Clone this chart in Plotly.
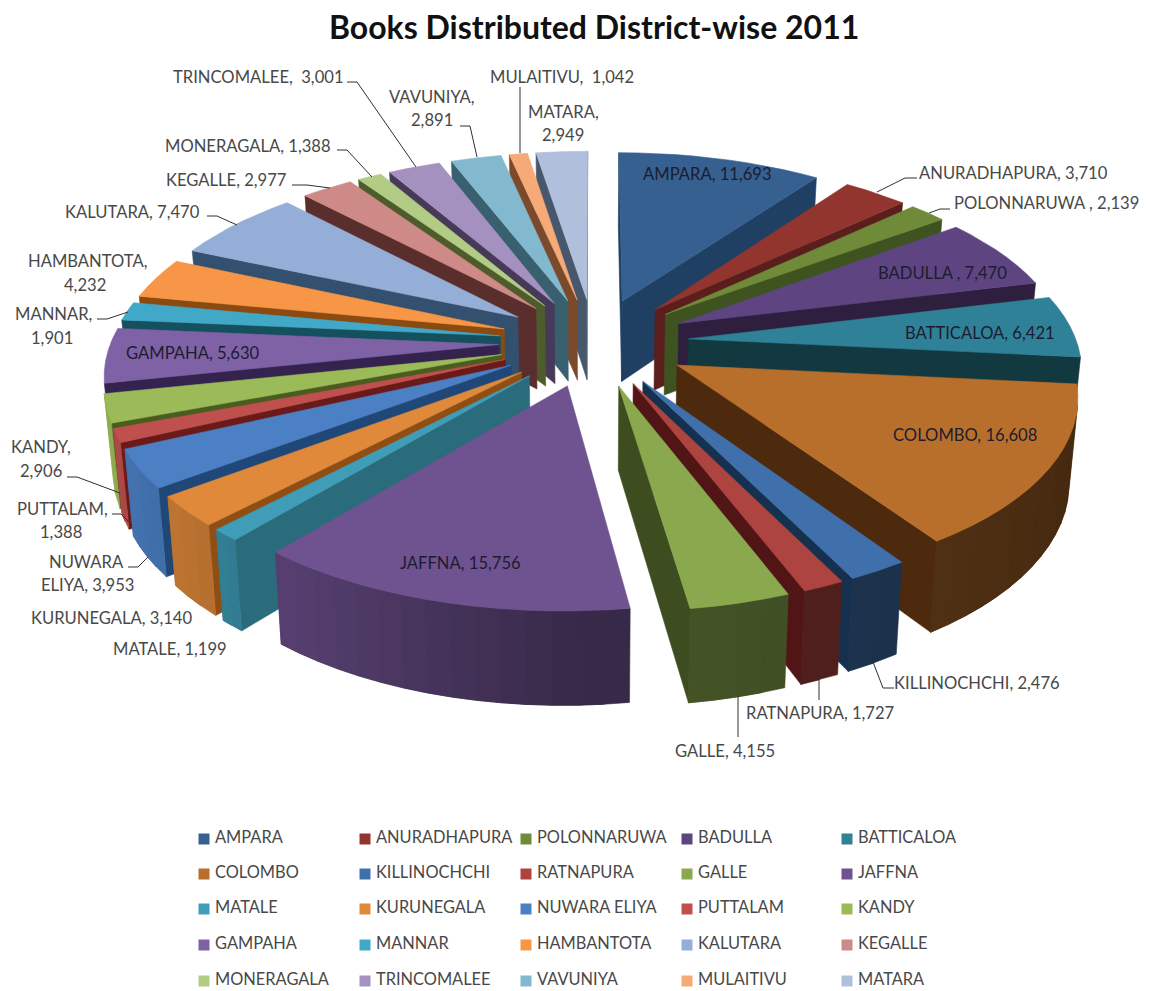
import math
import plotly.graph_objects as go

DISTRICTS = ["AMPARA", "ANURADHAPURA", "POLONNARUWA", "BADULLA", "BATTICALOA",
             "COLOMBO", "KILLINOCHCHI", "RATNAPURA", "GALLE", "JAFFNA",
             "MATALE", "KURUNEGALA", "NUWARA ELIYA", "PUTTALAM", "KANDY",
             "GAMPAHA", "MANNAR", "HAMBANTOTA", "KALUTARA", "KEGALLE",
             "MONERAGALA", "TRINCOMALEE", "VAVUNIYA", "MULAITIVU", "MATARA"]
BOOKS = [11693, 3710, 2139, 7470, 6421,
         16608, 2476, 1727, 4155, 15756,
         1199, 3140, 3953, 1388, 2906,
         5630, 1901, 4232, 7470, 2977,
         1388, 3001, 2891, 1042, 2949]
FACE_COLORS = ["#36608f", "#93352f", "#6f8a38", "#5e4582", "#2f8198",
               "#b96f2c", "#4070ac", "#ad4440", "#8aa94e", "#6f5290",
               "#3f9db8", "#e0893a", "#4b80c4", "#c0504d", "#9bbb59",
               "#7f62a6", "#42a8c8", "#f79646", "#95aed8", "#cd8a86",
               "#b3cc85", "#a491bf", "#83b9cf", "#f5aa78", "#b0c0dc"]
SIDE_COLORS = ["#1f3f63", "#5a1e1c", "#3f5320", "#2e1f3e", "#123840",
               "#4d2a0d", "#16304f", "#521515", "#3d4d20", "#3a2b50",
               "#2a6b7c", "#8f4f14", "#1f4778", "#6b1a1a", "#4a5c1f",
               "#34224f", "#15505f", "#8a4a10", "#34506f", "#5a2e2c",
               "#4e5c2c", "#463a58", "#38606e", "#7a4a2a", "#47586c"]

# Text placed on or beside the slices: one line, centre x, centre y, colour key
LABELS = [
    ("AMPARA, 11,693", 707, 174, "in"),
    ("ANURADHAPURA, 3,710", 1013, 173, "out"),
    ("POLONNARUWA , 2,139", 1046, 203, "out"),
    ("BADULLA , 7,470", 942, 273, "in"),
    ("BATTICALOA, 6,421", 980, 333, "in"),
    ("COLOMBO, 16,608", 965, 435, "in"),
    ("KILLINOCHCHI, 2,476", 977, 683, "out"),
    ("RATNAPURA, 1,727", 820, 713, "out"),
    ("GALLE, 4,155", 725, 751, "out"),
    ("JAFFNA, 15,756", 460, 563, "in"),
    ("MATALE, 1,199", 170, 649, "out"),
    ("KURUNEGALA, 3,140", 111, 618, "out"),
    ("NUWARA", 86, 562, "out"),
    ("ELIYA, 3,953", 87, 585, "out"),
    ("PUTTALAM,", 62, 509, "out"),
    ("1,388", 61, 532, "out"),
    ("KANDY,", 41, 447, "out"),
    ("2,906", 41, 471, "out"),
    ("GAMPAHA, 5,630", 193, 353, "in"),
    ("MANNAR,", 53, 314, "out"),
    ("1,901", 52, 338, "out"),
    ("HAMBANTOTA,", 87, 261, "out"),
    ("4,232", 85, 285, "out"),
    ("KALUTARA, 7,470", 132, 212, "out"),
    ("KEGALLE, 2,977", 226, 180, "out"),
    ("MONERAGALA, 1,388", 248, 146, "out"),
    ("TRINCOMALEE,  3,001", 258, 77, "out"),
    ("VAVUNIYA,", 432, 97, "out"),
    ("2,891", 432, 120, "out"),
    ("MULAITIVU,  1,042", 562, 77, "out"),
    ("MATARA,", 563, 112, "out"),
    ("2,949", 563, 135, "out"),
]

# Leader lines from outside labels to their slices
LEADERS = [
    [(917, 178), (905, 178), (877, 192)],
    [(950, 209), (940, 209), (929, 213)],
    [(894, 688), (883, 688), (873, 662)],
    [(819, 700), (819, 678)],
    [(738, 737), (738, 695)],
    [(128, 567), (138, 567), (148, 557)],
    [(112, 514), (121, 514), (132, 525)],
    [(67, 477), (77, 477), (120, 493)],
    [(97, 319), (107, 319), (128, 312)],
    [(207, 216), (217, 216), (237, 225)],
    [(292, 185), (307, 185), (330, 188)],
    [(337, 150), (347, 150), (372, 177)],
    [(347, 82), (357, 82), (416, 167)],
    [(460, 126), (470, 126), (477, 157)],
    [(520, 87), (520, 153)],
]

LEGEND_COLUMNS = [204, 365, 526, 687, 847]
LEGEND_ROWS = [839, 874, 909, 945, 981]

TITLE = "Books Distributed District-wise 2011"
FONT = "Lato"
TEXT_OUT = "#484848"
TEXT_IN = "#1c1c30"

# Perspective of the pie: centre, radii, foreshortening, extrusion depth, explosion
CX, CY = 594, 342
RX, RY = 388, 180
PERSP = 0.14
DEPTH = 82
TAPER = 0.018
EXPLODE = 0.245


def project(x, y, z):
    w = 1 / (1 - PERSP * y)
    return (CX + RX * x * w * (1 - TAPER * z),
            CY + RY * y * w * (1 - TAPER * z) + DEPTH * z * w)


def shade(color, factor):
    r, g, b = (int(color[i:i + 2], 16) for i in (1, 3, 5))
    return "#%02x%02x%02x" % (int(r * factor), int(g * factor), int(b * factor))


def outer_shade(angle):
    nx = math.sin(angle)
    return 0.52 - 0.15 * nx if nx > 0 else 0.52 + 0.42 * abs(nx)


def area(poly):
    return sum(poly[i][0] * poly[(i + 1) % len(poly)][1]
               - poly[(i + 1) % len(poly)][0] * poly[i][1]
               for i in range(len(poly)))


fig = go.Figure()


def add_polygon(poly, color):
    xs = [p[0] for p in poly] + [poly[0][0]]
    ys = [p[1] for p in poly] + [poly[0][1]]
    fig.add_trace(go.Scatter(x=xs, y=ys, mode="lines", fill="toself", fillcolor=color,
                             line=dict(color=color, width=0.6), hoverinfo="skip",
                             showlegend=False))


def faces_viewer(p, q):
    quad = [project(p[0], p[1], 0), project(q[0], q[1], 0),
            project(q[0], q[1], 1), project(p[0], p[1], 1)]
    return area(quad) < 0


def wall(path, color):
    # Extruded band below a run of top-face points
    top = [project(p[0], p[1], 0) for p in path]
    bottom = [project(p[0], p[1], 1) for p in reversed(path)]
    add_polygon(top + bottom, color)


# Angular extent of every slice, clockwise from twelve o'clock
total = sum(BOOKS)
slices = []
running = 0
for i, v in enumerate(BOOKS):
    a0 = running / total * 2 * math.pi
    running += v
    a1 = running / total * 2 * math.pi
    slices.append((i, a0, a1))

# Back slices are painted first so the front ones overlap them
for i, a0, a1 in sorted(slices, key=lambda s: math.cos((s[1] + s[2]) / 2), reverse=True):
    mid = (a0 + a1) / 2
    ox, oy = EXPLODE * math.sin(mid), -EXPLODE * math.cos(mid)
    steps = max(2, int((a1 - a0) / math.radians(3)))
    angles = [a0 + (a1 - a0) * s / steps for s in range(steps + 1)]
    rim = [(ox + math.sin(a), oy - math.cos(a)) for a in angles]
    tip = (ox, oy)
    if faces_viewer(tip, rim[0]):
        wall([tip, rim[0]], SIDE_COLORS[i])
    if faces_viewer(rim[-1], tip):
        wall([rim[-1], tip], SIDE_COLORS[i])
    # Each rim strip runs under the next one so no seam shows between them
    for s in range(steps):
        if not faces_viewer(rim[s], rim[s + 1]):
            continue
        last = s + 2 if s + 2 <= steps and faces_viewer(rim[s + 1], rim[s + 2]) else s + 1
        wall(rim[s:last + 1], shade(FACE_COLORS[i], outer_shade((angles[s] + angles[s + 1]) / 2)))
    add_polygon([project(tip[0], tip[1], 0)] + [project(p[0], p[1], 0) for p in rim], FACE_COLORS[i])

for path in LEADERS:
    fig.add_trace(go.Scatter(x=[p[0] for p in path], y=[p[1] for p in path], mode="lines",
                             line=dict(color="#303030", width=1), hoverinfo="skip",
                             showlegend=False))

for text, x, y, kind in LABELS:
    fig.add_annotation(x=x, y=y, text=text, showarrow=False, xanchor="center", yanchor="middle",
                       font=dict(family=FONT, size=16.6, color=TEXT_IN if kind == "in" else TEXT_OUT))

# Legend grid, five entries per row
n_cols = len(LEGEND_COLUMNS)
key_x = [LEGEND_COLUMNS[i % n_cols] for i in range(len(DISTRICTS))]
key_y = [LEGEND_ROWS[i // n_cols] for i in range(len(DISTRICTS))]
fig.add_trace(go.Scatter(x=key_x, y=key_y, mode="markers",
                         marker=dict(symbol="square", size=11, color=FACE_COLORS),
                         hoverinfo="skip", showlegend=False))
fig.add_trace(go.Scatter(x=[x + 11 for x in key_x], y=key_y, mode="text", text=DISTRICTS,
                         textposition="middle right",
                         textfont=dict(family=FONT, size=16.4, color=TEXT_OUT),
                         hoverinfo="skip", showlegend=False))

fig.add_annotation(x=594, y=26, text="<b>%s</b>" % TITLE, showarrow=False,
                   font=dict(family=FONT, size=32, color="#111111"))

fig.update_layout(width=1150, height=991, margin=dict(l=0, r=0, t=0, b=0),
                  paper_bgcolor="white", plot_bgcolor="white",
                  xaxis=dict(range=[0, 1150], visible=False, fixedrange=True),
                  yaxis=dict(range=[991, 0], visible=False, fixedrange=True))
fig.write_html("out.html")
